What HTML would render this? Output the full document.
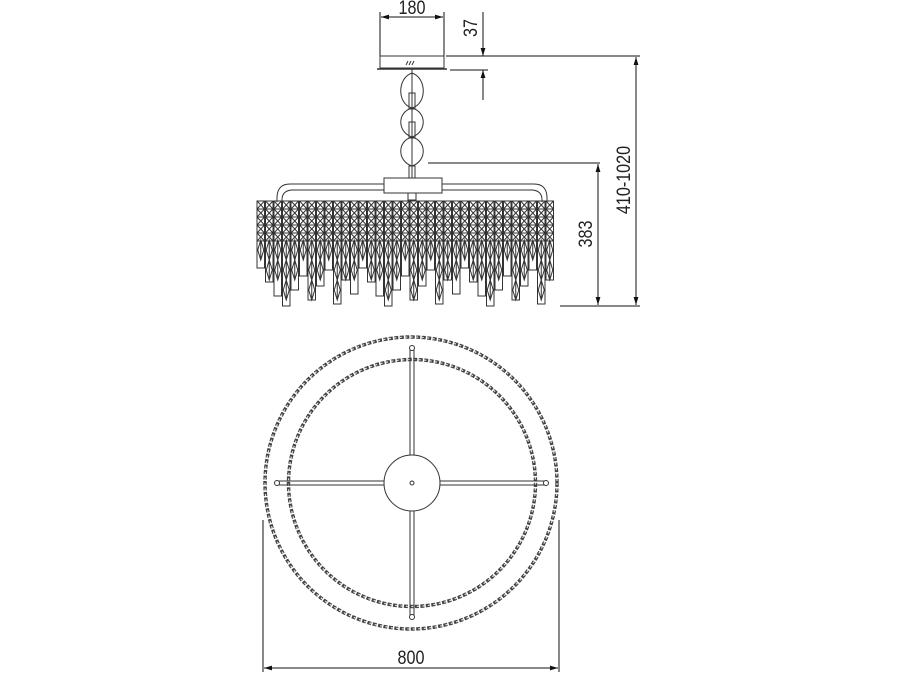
<!DOCTYPE html>
<html><head><meta charset="utf-8"><style>
html,body{margin:0;padding:0;background:#fff;}
svg{display:block}
text{font-family:"Liberation Sans",sans-serif;font-size:19px;fill:#222}
</style></head><body>
<svg id="s" width="900" height="675" viewBox="0 0 900 675" xmlns="http://www.w3.org/2000/svg">
<defs>
<marker id="a" viewBox="0 0 10 10" refX="10" refY="5" markerWidth="8" markerHeight="8" orient="auto-start-reverse"><path d="M0,2 L10,5 L0,8 z" fill="#111"/></marker>
</defs>
<g stroke="#111" stroke-width="1" fill="none">
<line x1="380" y1="12" x2="380" y2="56"/><line x1="444" y1="12" x2="444" y2="56"/>
<line x1="381" y1="17" x2="443" y2="17" marker-start="url(#a)" marker-end="url(#a)"/>
<line x1="483" y1="12" x2="483" y2="56" marker-end="url(#a)"/>
<line x1="483" y1="100" x2="483" y2="70" marker-end="url(#a)"/>
<line x1="446" y1="56" x2="640" y2="56"/><line x1="450" y1="70" x2="488" y2="70"/>
<line x1="636" y1="57" x2="636" y2="305" marker-start="url(#a)" marker-end="url(#a)"/>
<line x1="560" y1="306" x2="640" y2="306"/>
<line x1="428" y1="163" x2="600" y2="163"/>
<line x1="598" y1="164" x2="598" y2="305" marker-start="url(#a)" marker-end="url(#a)"/>
<line x1="263" y1="520" x2="263" y2="672"/><line x1="559" y1="520" x2="559" y2="672"/>
<line x1="264" y1="668" x2="558" y2="668" marker-start="url(#a)" marker-end="url(#a)"/>
</g>
<text transform="translate(412,14) scale(0.85,1)" text-anchor="middle">180</text>
<text transform="translate(477,28) rotate(-90) scale(0.85,1)" text-anchor="middle">37</text>
<text transform="translate(630,180) rotate(-90) scale(0.85,1)" text-anchor="middle">410-1020</text>
<text transform="translate(592,234) rotate(-90) scale(0.85,1)" text-anchor="middle">383</text>
<text transform="translate(411,664) scale(0.85,1)" text-anchor="middle">800</text>

<g stroke="#333" fill="none" stroke-width="1">
<rect x="380" y="56" width="64" height="12"/>
<line x1="377" y1="69" x2="447" y2="69" stroke-width="1.5"/>
<path d="M406,65 l2,-4 M409,65 l2,-4 M412,65 l2,-4"/>
<line x1="412" y1="69" x2="412" y2="178"/>
<path d="M412,73 C397,78 397,104 412,108 C427,104 427,78 412,73 Z"/>
<path d="M412,108 C397,112 397,132 412,137 C427,132 427,112 412,108 Z"/>
<path d="M412,137 C397,141 397,161 412,166 C427,161 427,141 412,137 Z"/>
<rect x="409" y="93" width="6" height="16"/><rect x="409" y="122" width="6" height="16"/>
<rect x="409" y="166" width="6" height="12"/>
<rect x="384" y="178" width="58" height="15"/>
<rect x="408" y="193" width="8" height="7"/>
<path d="M384,184 L290,184 Q277,184 277,198 L277,202 M384,190 L293,190 Q282,190 282,200 L282,202"/>
<path d="M442,184 L534,184 Q547,184 547,198 L547,202 M442,190 L531,190 Q542,190 542,200 L542,202"/>
</g>
<g id="cr" stroke="#333" stroke-width="1" fill="none"></g>

<g fill="none" stroke="#333">
<circle cx="411" cy="483" r="146" stroke-width="3.4" stroke-dasharray="4 1.5" stroke="#444"/>
<circle cx="411" cy="483" r="146" stroke-width="1.2" stroke="#ddd" stroke-dasharray="2 3.5"/>
<circle cx="412" cy="483" r="123.5" stroke-width="3.4" stroke-dasharray="4 1.5" stroke="#444"/>
<circle cx="412" cy="483" r="123.5" stroke-width="1.2" stroke="#ddd" stroke-dasharray="2 3.5"/>
<g stroke-width="1">
<line x1="279" y1="481" x2="384" y2="481"/><line x1="279" y1="485" x2="384" y2="485"/>
<line x1="440" y1="481" x2="545" y2="481"/><line x1="440" y1="485" x2="545" y2="485"/>
<line x1="410" y1="350" x2="410" y2="455"/><line x1="414" y1="350" x2="414" y2="455"/>
<line x1="410" y1="511" x2="410" y2="616"/><line x1="414" y1="511" x2="414" y2="616"/>
<circle cx="277" cy="483" r="2.5" fill="#fff"/><circle cx="546" cy="483" r="2.5" fill="#fff"/>
<circle cx="412" cy="348" r="2.5" fill="#fff"/><circle cx="412" cy="617" r="2.5" fill="#fff"/>
<circle cx="412" cy="483" r="28" fill="#fff"/>
<circle cx="412" cy="483" r="2" />
</g>
</g>
</svg>
<script>
var g=document.getElementById('cr'),h='';
var ends=[268,282,296,306,290,276,300,286,270,304,280,294];
var n=0;
for(var x=257;x<553;x+=8.5){
  var e=ends[n%ends.length];n++;
  h+='<rect x="'+x+'" y="201" width="7.5" height="'+(e-201)+'"/>';
  for(var y=201;y<240;y+=8){h+='<path d="M'+x+','+y+' l7.5,8 M'+(x+7.5)+','+y+' l-7.5,8 M'+x+','+(y+8)+' h7.5"/>';}
  for(var y=240;y+20<=e;y+=20){h+='<path d="M'+(x+3.75)+','+y+' l-3,10 l3,10 l3,-10 z M'+(x+3.75)+','+y+' v20"/>';}
}
g.innerHTML=h;
</script>
</body></html>
